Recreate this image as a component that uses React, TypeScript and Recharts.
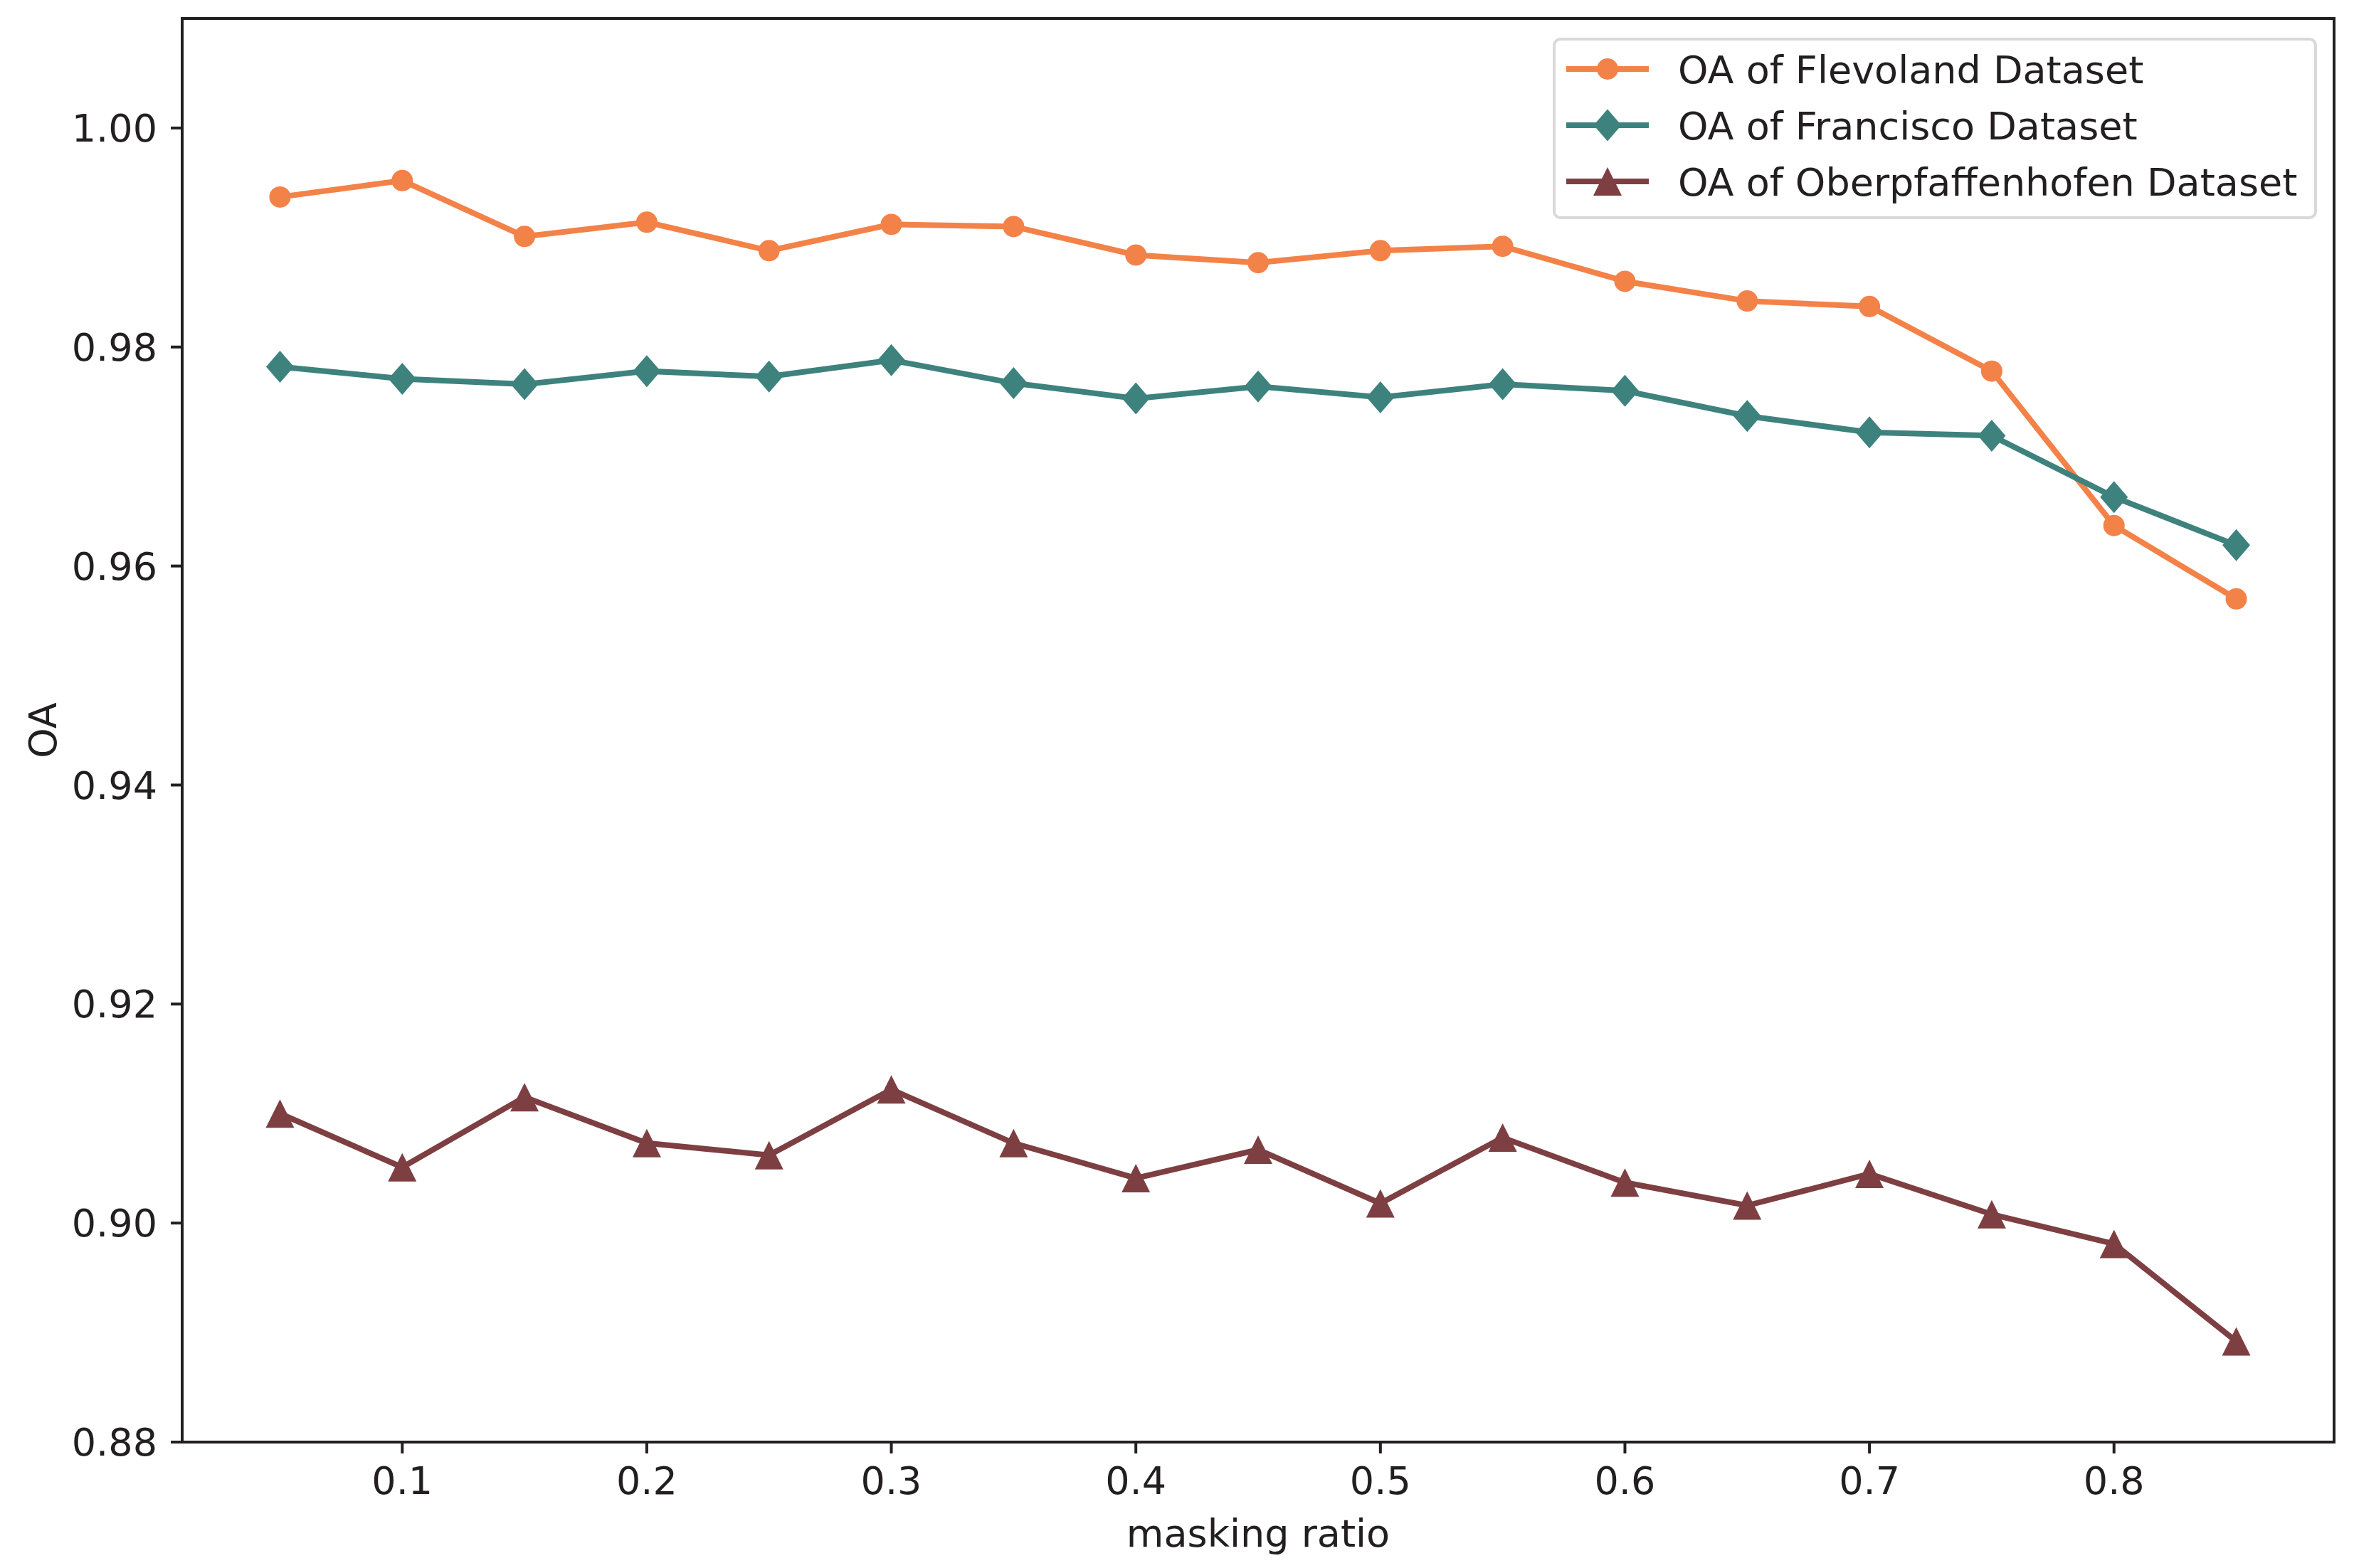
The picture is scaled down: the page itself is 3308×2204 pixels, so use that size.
import React from 'react';
import { LineChart, Line, XAxis, YAxis, Legend, ReferenceArea, Label } from 'recharts';

// masking ratios on the x axis
const maskingRatios = [0.05, 0.1, 0.15, 0.2, 0.25, 0.3, 0.35, 0.4, 0.45, 0.5, 0.55, 0.6, 0.65, 0.7, 0.75, 0.8, 0.85];

const flevolandOA = [0.9937, 0.9952, 0.9901, 0.9914, 0.9888, 0.9912, 0.991, 0.9884, 0.9877, 0.9888, 0.9892, 0.986, 0.9842, 0.9837, 0.9778, 0.9637, 0.957];
const franciscoOA = [0.9782, 0.9771, 0.9766, 0.9778, 0.9773, 0.9788, 0.9767, 0.9753, 0.9764, 0.9754, 0.9766, 0.976, 0.9737, 0.9722, 0.9719, 0.9663, 0.9619];
const oberpfaffenhofenOA = [0.91, 0.9051, 0.9115, 0.9073, 0.9062, 0.9122, 0.9073, 0.9041, 0.9067, 0.9018, 0.9078, 0.9037, 0.9016, 0.9045, 0.9008, 0.8981, 0.8892];

const xTicks = [0.1, 0.2, 0.3, 0.4, 0.5, 0.6, 0.7, 0.8];
const yTicks = [0.88, 0.9, 0.92, 0.94, 0.96, 0.98, 1.0];

const seriesNames = ['OA of Flevoland Dataset', 'OA of Francisco Dataset', 'OA of Oberpfaffenhofen Dataset'];

const ORANGE = '#F38248';
const TEAL = '#3E827E';
const BROWN = '#7D3F42';
const INK = '#231F20';
const FONT = 'DejaVu Sans';
const FS = 54;

const data = maskingRatios.map((ratio, i) => ({
  ratio,
  flevoland: flevolandOA[i],
  francisco: franciscoOA[i],
  oberpfaffenhofen: oberpfaffenhofenOA[i],
}));

type Shape = 'circle' | 'diamond' | 'triangle';

function marker(shape: Shape, cx: number, cy: number, color: string, key?: React.Key) {
  if (shape === 'circle') return <circle key={key} cx={cx} cy={cy} r={15} fill={color} />;
  if (shape === 'diamond') {
    const w = 19.5, h = 22.5;
    return <polygon key={key} points={`${cx},${cy - h} ${cx + w},${cy} ${cx},${cy + h} ${cx - w},${cy}`} fill={color} />;
  }
  const s = 20;
  return <polygon key={key} points={`${cx},${cy - s} ${cx + s},${cy + s} ${cx - s},${cy + s}`} fill={color} />;
}

const dotFor = (shape: Shape, color: string) => (p: any) => marker(shape, p.cx, p.cy, color, p.index);

const legendItems: { name: string; color: string; shape: Shape }[] = [
  { name: seriesNames[0], color: ORANGE, shape: 'circle' },
  { name: seriesNames[1], color: TEAL, shape: 'diamond' },
  { name: seriesNames[2], color: BROWN, shape: 'triangle' },
];

function LegendBox() {
  return (
    <svg width={1074} height={255} style={{ display: 'block' }}>
      <rect x={2} y={2} width={1070} height={251} rx={9} fill="rgba(255,255,255,0.8)" stroke="#d9d9d9" strokeWidth={4} />
      {legendItems.map((it, i) => {
        const cy = 44 + i * 79;
        return (
          <g key={it.name}>
            <line x1={19} x2={135} y1={cy} y2={cy} stroke={it.color} strokeWidth={8} />
            {marker(it.shape, 77, cy, it.color)}
            <text x={176} y={cy + 20} fontFamily={FONT} fontSize={FS} fill={INK}>
              {it.name}
            </text>
          </g>
        );
      })}
    </svg>
  );
}

const tickStyle = { fontFamily: FONT, fontSize: FS, fill: INK };

export default function App() {
  return (
    <div style={{ position: 'absolute', left: 0, top: 0, width: 3308, height: 2204, background: '#fff' }}>
      <LineChart width={3308} height={2204} data={data} margin={{ top: 26, right: 28, left: 0, bottom: 0 }}>
        <XAxis
          dataKey="ratio"
          type="number"
          domain={[0.01, 0.89]}
          ticks={xTicks}
          tickFormatter={(v: number) => v.toFixed(1)}
          height={177}
          tick={tickStyle}
          tickSize={16}
          tickMargin={19}
          tickLine={{ stroke: INK, strokeWidth: 4 }}
          axisLine={{ stroke: INK, strokeWidth: 4 }}
        >
          <Label
            content={(props: any) => {
              const vb = props.viewBox;
              return (
                <text x={vb.x + vb.width / 2} y={2174} textAnchor="middle" fontFamily={FONT} fontSize={FS} fill={INK}>
                  masking ratio
                </text>
              );
            }}
          />
        </XAxis>
        <YAxis
          type="number"
          domain={[0.88, 1.01]}
          ticks={yTicks}
          tickFormatter={(v: number) => v.toFixed(2)}
          width={256}
          tick={tickStyle}
          tickSize={16}
          tickMargin={19}
          tickLine={{ stroke: INK, strokeWidth: 4 }}
          axisLine={{ stroke: INK, strokeWidth: 4 }}
        >
          <Label
            content={(props: any) => {
              const vb = props.viewBox;
              const cy = vb.y + vb.height / 2;
              return (
                <text x={79} y={cy} textAnchor="middle" transform={`rotate(-90, 79, ${cy})`} fontFamily={FONT} fontSize={FS} fill={INK}>
                  OA
                </text>
              );
            }}
          />
        </YAxis>
        <ReferenceArea x1={0.01} x2={0.89} y1={0.88} y2={1.01} fill="none" stroke={INK} strokeWidth={4} />
        <Line
          type="linear"
          dataKey="flevoland"
          name={seriesNames[0]}
          stroke={ORANGE}
          strokeWidth={8}
          dot={dotFor('circle', ORANGE)}
          activeDot={false}
          isAnimationActive={false}
        />
        <Line
          type="linear"
          dataKey="francisco"
          name={seriesNames[1]}
          stroke={TEAL}
          strokeWidth={8}
          dot={dotFor('diamond', TEAL)}
          activeDot={false}
          isAnimationActive={false}
        />
        <Line
          type="linear"
          dataKey="oberpfaffenhofen"
          name={seriesNames[2]}
          stroke={BROWN}
          strokeWidth={8}
          dot={dotFor('triangle', BROWN)}
          activeDot={false}
          isAnimationActive={false}
        />
        <Legend
          layout="vertical"
          align="center"
          verticalAlign="middle"
          content={() => <LegendBox />}
          wrapperStyle={{ left: 2182, top: 53, width: 1074, height: 255, bottom: 'auto', right: 'auto' }}
        />
      </LineChart>
    </div>
  );
}
